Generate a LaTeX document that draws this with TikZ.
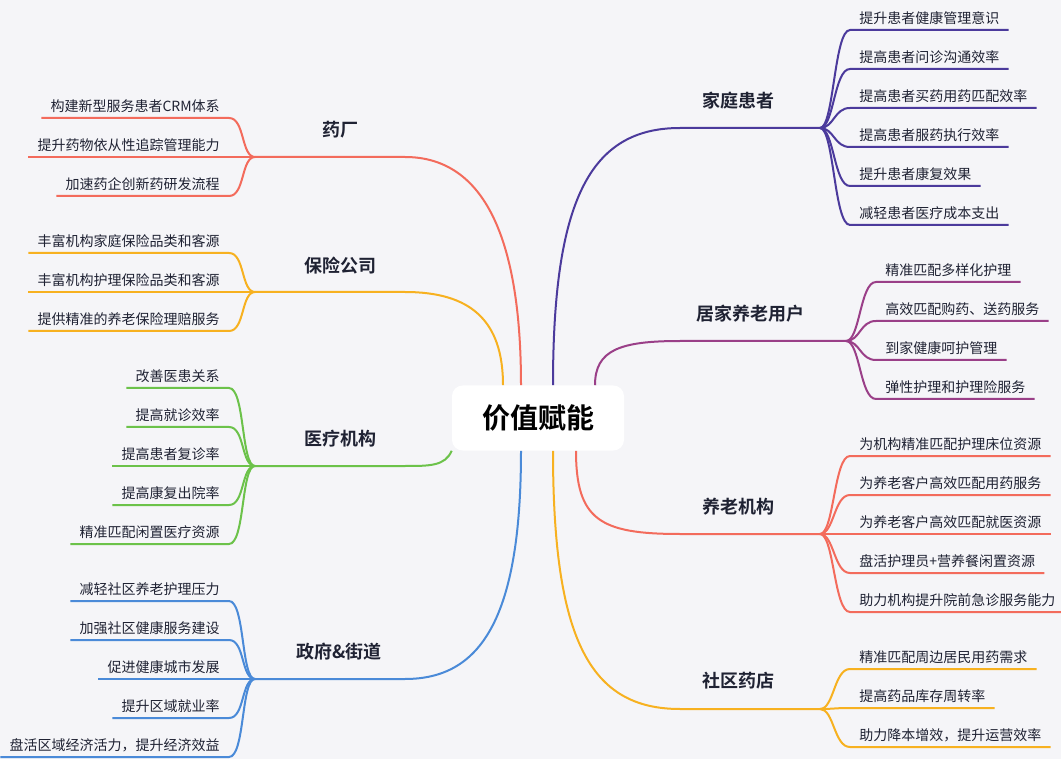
\documentclass[tikz,border=0pt]{standalone}
\usepackage{fontspec}
\newfontfamily\cjk{Noto Sans CJK SC}[BoldFont={Noto Sans CJK SC Bold}]
\definecolor{bg}{HTML}{F5F5F8}
\definecolor{cpurple}{HTML}{4B3A9C}
\definecolor{cplum}{HTML}{9A3F88}
\definecolor{csalmon}{HTML}{F36B5C}
\definecolor{corange}{HTML}{F7B120}
\definecolor{cgreen}{HTML}{6CC24A}
\definecolor{cblue}{HTML}{4A8AD8}
\definecolor{ctext}{HTML}{1F2233}

\tikzset{
  leafR/.style={anchor=south west,inner xsep=9*0.75pt,inner ysep=5*0.75pt,font=\cjk\fontsize{10.5}{12}\selectfont,text=ctext},
  leafL/.style={anchor=south east,inner xsep=9*0.75pt,inner ysep=5*0.75pt,font=\cjk\fontsize{10.5}{12}\selectfont,text=ctext},
  branch/.style={font=\cjk\bfseries\fontsize{13.5}{15}\selectfont,text=ctext},
  link/.style={line width=1.5pt}
}

% leaves on the right: hub, colour, list of y/text
\newcommand\leavesR[3]{%
  \foreach \y/\t [count=\i] in {#3} {
    \path (#1) ++(30,0) coordinate (tmp);
    \node[leafR] (#1-\i) at (tmp |- 0,\y) {\t};
    \draw[link,#2] (#1) .. controls +(14,0) and +(-16,0) .. (#1-\i.south west) -- (#1-\i.south east);
  }}
% leaves on the left
\newcommand\leavesL[3]{%
  \foreach \y/\t [count=\i] in {#3} {
    \path (#1) ++(-26,0) coordinate (tmp);
    \node[leafL] (#1-\i) at (tmp |- 0,\y) {\t};
    \draw[link,#2] (#1) .. controls +(-14,0) and +(16,0) .. (#1-\i.south east) -- (#1-\i.south west);
  }}

\begin{document}
\begin{tikzpicture}[x=0.75pt,y=-0.75pt]
  \fill[bg] (0,0) rectangle (1061,759);
  \useasboundingbox (0,0) rectangle (1061,759);

  \node[fill=white,rounded corners=8pt,minimum width=172*0.75pt,minimum height=65*0.75pt,
        font=\cjk\bfseries\fontsize{21}{24}\selectfont] (core) at (538,418) {价值赋能};

  % right side
  \coordinate (fam) at (820,128);
  \coordinate (home) at (846,341);
  \coordinate (inst) at (820,534);
  \coordinate (shop) at (820,709);
  \node[branch] (famL) at (738,101) {家庭患者};
  \node[branch] (homeL) at (750,314) {居家养老用户};
  \node[branch] (instL) at (738,507) {养老机构};
  \node[branch] (shopL) at (738,681) {社区药店};
  \draw[link,cpurple] ([xshift=15*0.75pt]core.north) .. controls (553,200) and (590,128) .. (680,128) -- (fam);
  \draw[link,cplum] ([xshift=57*0.75pt]core.north) .. controls (595,350) and (620,341) .. (680,341) -- (home);
  \draw[link,csalmon] ([xshift=38*0.75pt]core.south) .. controls (576,520) and (600,534) .. (680,534) -- (inst);
  \draw[link,corange] ([xshift=15*0.75pt]core.south) .. controls (553,640) and (590,709) .. (680,709) -- (shop);

  \leavesR{fam}{cpurple}{30/提升患者健康管理意识,69/提高患者问诊沟通效率,108/提高患者买药用药匹配效率,147/提高患者服药执行效率,186/提升患者康复效果,225/减轻患者医疗成本支出}
  \leavesR{home}{cplum}{282/精准匹配多样化护理,321/高效匹配购药、送药服务,360/到家健康呵护管理,399/弹性护理和护理险服务}
  \leavesR{inst}{csalmon}{456/为机构精准匹配护理床位资源,495/为养老客户高效匹配用药服务,534/为养老客户高效匹配就医资源,573/盘活护理员+营养餐闲置资源,612/助力机构提升院前急诊服务能力}
  \leavesR{shop}{corange}{669/精准匹配周边居民用药需求,708/提高药品库存周转率,747/助力降本增效，提升运营效率}

  % left side
  \coordinate (fac) at (255,157);
  \coordinate (ins) at (255,292);
  \coordinate (med) at (255,466);
  \coordinate (gov) at (255,679);
  \node[branch] (facL) at (340,130) {药厂};
  \node[branch] (insL) at (340,266) {保险公司};
  \node[branch] (medL) at (340,439) {医疗机构};
  \node[branch] (govL) at (339,652) {政府\&街道};
  \draw[link,csalmon] ([xshift=-17*0.75pt]core.north) .. controls (521,230) and (480,157) .. (405,157) -- (fac);
  \draw[link,corange] ([xshift=-35*0.75pt]core.north) .. controls (503,320) and (470,292) .. (405,292) -- (ins);
  \draw[link,cgreen] (core.south west) .. controls (445,466) and (430,466) .. (405,466) -- (med);
  \draw[link,cblue] ([xshift=-17*0.75pt]core.south) .. controls (521,620) and (480,679) .. (405,679) -- (gov);

  \leavesL{fac}{csalmon}{118/构建新型服务患者CRM体系,157/提升药物依从性追踪管理能力,196/加速药企创新药研发流程}
  \leavesL{ins}{corange}{253/丰富机构家庭保险品类和客源,292/丰富机构护理保险品类和客源,331/提供精准的养老保险理赔服务}
  \leavesL{med}{cgreen}{388/改善医患关系,427/提高就诊效率,466/提高患者复诊率,505/提高康复出院率,544/精准匹配闲置医疗资源}
  \leavesL{gov}{cblue}{601/减轻社区养老护理压力,640/加强社区健康服务建设,679/促进健康城市发展,718/提升区域就业率,757/盘活区域经济活力，提升经济效益}
\end{tikzpicture}
\end{document}
